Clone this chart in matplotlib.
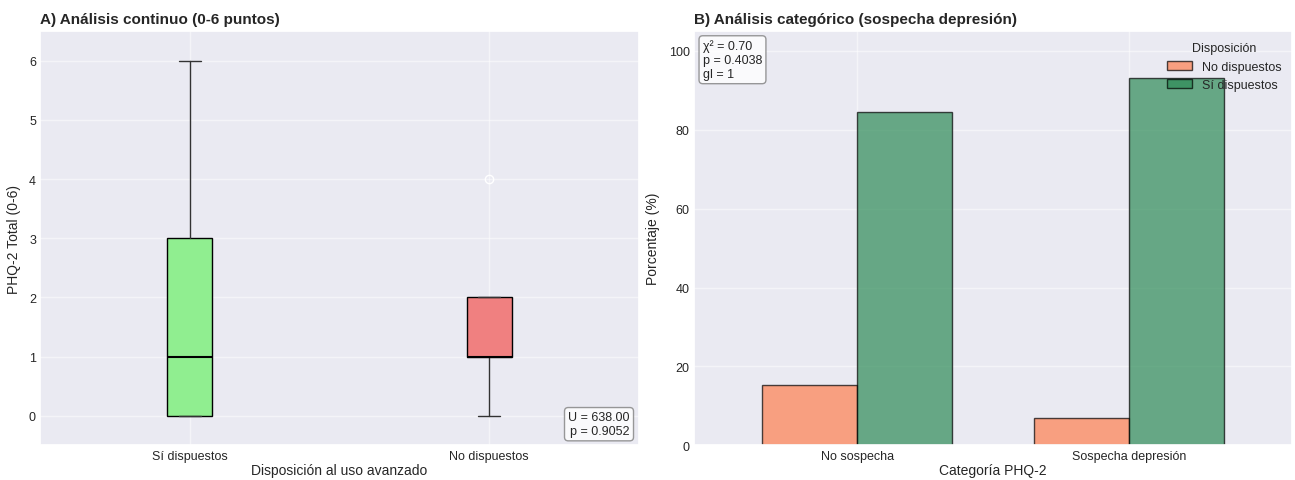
import numpy as np
import matplotlib.pyplot as plt
import seaborn as sns

sns.set_theme(style='darkgrid')
plt.rcParams['font.family'] = ['Liberation Sans', 'DejaVu Sans']

# Panel A: resumen de las cajas (PHQ-2 total)
grupos = ['Sí dispuestos', 'No dispuestos']
q1 = [0, 1]
mediana = [1, 1]
q3 = [3, 2]
bigote_inf = [0, 0]
bigote_sup = [6, 2]
atipicos = [[], [4]]
colores_caja = ['lightgreen', 'lightcoral']
U_stat, p_mw = 638.00, 0.9052

# Panel B: porcentajes por categoria
categorias = ['No sospecha', 'Sospecha depresión']
pct_no = [15.4, 6.9]
pct_si = [84.6, 93.1]
chi2, p_chi, gl = 0.70, 0.4038, 1

fig, (ax1, ax2) = plt.subplots(1, 2, figsize=(12.95, 4.81), dpi=100)
fig.subplots_adjust(left=0.031, right=0.998, top=0.933, bottom=0.072, wspace=0.092)

stats = []
for i in range(len(grupos)):
    stats.append(dict(q1=q1[i], med=mediana[i], q3=q3[i], whislo=bigote_inf[i],
                      whishi=bigote_sup[i], fliers=atipicos[i], label=grupos[i]))
bp = ax1.bxp(stats, positions=[1, 2], widths=0.15, patch_artist=True,
             medianprops=dict(color='black', linewidth=1.5),
             whiskerprops=dict(color='#333333'), capprops=dict(color='#333333'),
             flierprops=dict(marker='o', markerfacecolor='none', markeredgecolor='white', markersize=6))
for patch, c in zip(bp['boxes'], colores_caja):
    patch.set_facecolor(c)
    patch.set_edgecolor('black')
    patch.set_linewidth(1.0)
ax1.set_xlim(0.5, 2.5)
ax1.set_ylim(-0.5, 6.5)
ax1.set_xlabel('Disposición al uso avanzado', fontsize=10, labelpad=1)
ax1.set_ylabel('PHQ-2 Total (0-6)', fontsize=10, labelpad=6)
ax1.set_title('A) Análisis continuo (0-6 puntos)', fontsize=11, fontweight='bold', loc='left')
ax1.tick_params(labelsize=9, length=0, pad=3)
ax1.grid(True, alpha=0.5)
ax1.text(0.985, 0.02, f'U = {U_stat:.2f}\np = {p_mw:.4f}', transform=ax1.transAxes,
         ha='right', va='bottom', fontsize=9,
         bbox=dict(boxstyle='round,pad=0.3', facecolor='white', edgecolor='gray', alpha=0.8))

x = np.arange(len(categorias))
w = 0.35
ax2.bar(x - w / 2, pct_no, w, label='No dispuestos', color='coral', alpha=0.7, edgecolor='black')
ax2.bar(x + w / 2, pct_si, w, label='Sí dispuestos', color='seagreen', alpha=0.7, edgecolor='black')
ax2.set_xticks(x)
ax2.set_xticklabels(categorias)
ax2.set_xlim(-0.6, 1.6)
ax2.set_ylim(0, 105)
ax2.set_xlabel('Categoría PHQ-2', fontsize=10, labelpad=1)
ax2.set_ylabel('Porcentaje (%)', fontsize=10, labelpad=6)
ax2.set_title('B) Análisis categórico (sospecha depresión)', fontsize=11, fontweight='bold', loc='left')
ax2.tick_params(labelsize=9, length=0, pad=3)
ax2.grid(True, alpha=0.5)
ax2.legend(title='Disposición', loc='upper right', frameon=False, fontsize=9, title_fontsize=9)
ax2.text(0.015, 0.98, f'χ² = {chi2:.2f}\np = {p_chi:.4f}\ngl = {gl}', transform=ax2.transAxes,
         ha='left', va='top', fontsize=9,
         bbox=dict(boxstyle='round,pad=0.3', facecolor='white', edgecolor='gray', alpha=0.8))

plt.savefig('out.png', dpi=100)
